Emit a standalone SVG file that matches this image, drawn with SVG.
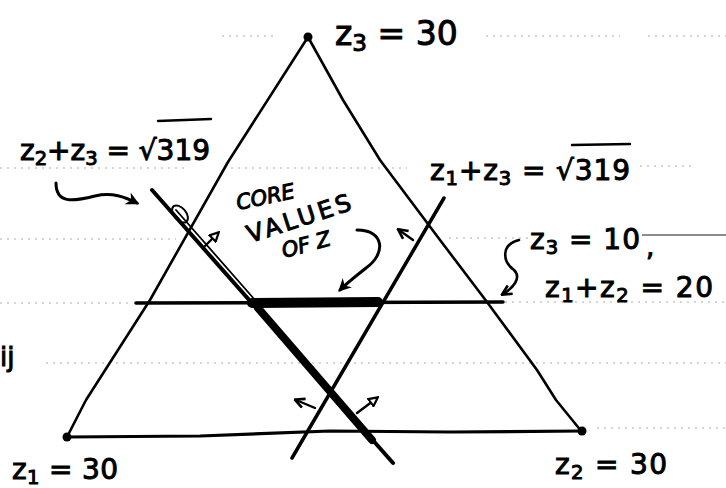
<svg xmlns="http://www.w3.org/2000/svg" width="726" height="488" viewBox="0 0 726 488">
<style>
.ink{fill:none;stroke:#000;stroke-linecap:round;stroke-linejoin:round}
.rule{fill:none;stroke:#aaa;stroke-width:1.1;stroke-dasharray:2 5}
.t{font-family:"DejaVu Sans","Liberation Sans",sans-serif;fill:#000;stroke:#000;stroke-width:1}
.sub{font-size:0.7em}
</style>
<defs>
<marker id="open" viewBox="0 0 10 10" refX="8" refY="5" markerWidth="11" markerHeight="11" orient="auto" markerUnits="userSpaceOnUse">
<path d="M1,1 L9,5 L1,9 Z" fill="#fff" stroke="#000" stroke-width="2"/>
</marker>
<marker id="fill" viewBox="0 0 10 10" refX="8" refY="5" markerWidth="13" markerHeight="13" orient="auto" markerUnits="userSpaceOnUse">
<path d="M0,0 L10,5 L0,10 L3,5 Z" fill="#000"/>
</marker>
<marker id="chev" viewBox="0 0 10 10" refX="8" refY="5" markerWidth="12" markerHeight="12" orient="auto" markerUnits="userSpaceOnUse">
<path d="M1,1 L9,5 L1,9" fill="none" stroke="#000" stroke-width="2.2"/>
</marker>
</defs>
<rect width="726" height="488" fill="#fff"/>
<g id="rules">
<line class="rule" x1="222" y1="36" x2="273" y2="36"/>
<line class="rule" x1="486" y1="36" x2="620" y2="36" stroke-dasharray="2 40"/>
<line class="rule" x1="648" y1="36" x2="726" y2="36"/>
<line class="rule" x1="0" y1="168" x2="185" y2="168"/>
<line class="rule" x1="231" y1="168" x2="407" y2="168"/>
<line class="rule" x1="640" y1="166" x2="695" y2="166"/>
<line class="rule" x1="0" y1="239" x2="176" y2="239"/>
<line class="rule" x1="449" y1="238" x2="528" y2="238"/>
<line x1="642" y1="235" x2="726" y2="235" stroke="#666" stroke-width="1.4"/>
<line class="rule" x1="0" y1="303" x2="130" y2="303"/>
<line class="rule" x1="505" y1="302" x2="726" y2="302"/>
<line class="rule" x1="46" y1="363" x2="726" y2="363"/>
<line class="rule" x1="597" y1="428" x2="726" y2="428"/>
</g>
<g id="triangle">
<polyline class="ink" stroke-width="2.6" points="308,37 228,162 150,300 86,400 67,437"/>
<polyline class="ink" stroke-width="2.6" points="308,37 343,100 380,160 440,240 487,302 537,370 556,400 582,432"/>
<polyline class="ink" stroke-width="3.2" points="67,437 200,436 330,431 450,432 582,431"/>
<circle cx="308" cy="37" r="4.5"/>
<circle cx="67" cy="437" r="4.5"/>
<circle cx="582" cy="431" r="4.5"/>
</g>
<g id="lines">
<line class="ink" stroke-width="3.5" x1="136" y1="303" x2="503" y2="302"/>
<line class="ink" stroke-width="10" x1="252" y1="303" x2="378" y2="302"/>
<line class="ink" stroke-width="4" x1="152" y1="190" x2="393" y2="463"/>
<line class="ink" stroke-width="1.8" x1="176" y1="210" x2="255" y2="300"/>
<line class="ink" stroke-width="8" x1="258" y1="308" x2="372" y2="440"/>
<line class="ink" stroke-width="3.5" x1="444" y1="198" x2="292" y2="458"/>
<ellipse class="ink" stroke-width="2" cx="180" cy="214" rx="6" ry="10" transform="rotate(-40 180 214)"/>
</g>
<g id="connectors">
<path class="ink" stroke-width="3" d="M56,183 C56,205 75,201 95,196 C112,192 125,197 137,203" marker-end="url(#fill)"/>
<path class="ink" stroke-width="3" d="M357,230 C385,230 386,254 366,268 C356,276 348,282 340,290" marker-end="url(#fill)"/>
<path class="ink" stroke-width="2.6" d="M519,240 C500,245 503,262 514,270 C522,278 513,288 503,294" marker-end="url(#chev)"/>
<line class="ink" stroke-width="2.4" x1="204" y1="247" x2="218" y2="233" marker-end="url(#open)"/>
<line class="ink" stroke-width="2.4" x1="413" y1="240" x2="399" y2="230" marker-end="url(#chev)"/>
<line class="ink" stroke-width="2.4" x1="315" y1="408" x2="296" y2="400" marker-end="url(#chev)"/>
<line class="ink" stroke-width="2.4" x1="357" y1="413" x2="377" y2="398" marker-end="url(#open)"/>
</g>
<g id="labels">
<text class="t" x="335" y="45" font-size="33">z<tspan class="sub" dy="6">3</tspan><tspan dy="-6"> = 30</tspan></text>
<text class="t" x="20" y="160" font-size="28" textLength="190" lengthAdjust="spacing">z<tspan class="sub" dy="5">2</tspan><tspan dy="-5">+z</tspan><tspan class="sub" dy="5">3</tspan><tspan dy="-5"> = √319</tspan></text>
<line class="ink" stroke-width="2.4" x1="158" y1="121" x2="211" y2="119"/>
<text class="t" x="430" y="180" font-size="28" textLength="200" lengthAdjust="spacing">z<tspan class="sub" dy="5">1</tspan><tspan dy="-5">+z</tspan><tspan class="sub" dy="5">3</tspan><tspan dy="-5"> = √319</tspan></text>
<line class="ink" stroke-width="2.4" x1="572" y1="145" x2="630" y2="144"/>
<text class="t" x="530" y="249" font-size="28" textLength="110" lengthAdjust="spacing">z<tspan class="sub" dy="5">3</tspan><tspan dy="-5"> = 10</tspan></text>
<text class="t" x="646" y="256" font-size="26">,</text>
<text class="t" x="545" y="297" font-size="28" textLength="168" lengthAdjust="spacing">z<tspan class="sub" dy="5">1</tspan><tspan dy="-5">+z</tspan><tspan class="sub" dy="5">2</tspan><tspan dy="-5"> = 20</tspan></text>
<text class="t" x="12" y="479" font-size="28" textLength="106" lengthAdjust="spacing">z<tspan class="sub" dy="5">1</tspan><tspan dy="-5"> = 30</tspan></text>
<text class="t" x="555" y="474" font-size="28" textLength="112" lengthAdjust="spacing">z<tspan class="sub" dy="5">2</tspan><tspan dy="-5"> = 30</tspan></text>
<text class="t" font-size="21" transform="translate(238,210) rotate(-12)" font-style="italic">CORE</text>
<text class="t" font-size="24" transform="translate(250,243) rotate(-18)" textLength="108" lengthAdjust="spacing">VALUES</text>
<text class="t" font-size="21" transform="translate(284,258) rotate(-15)" font-style="italic">OF Z</text>
<text class="t" x="0" y="366" font-size="26">ij</text>
</g>
</svg>
